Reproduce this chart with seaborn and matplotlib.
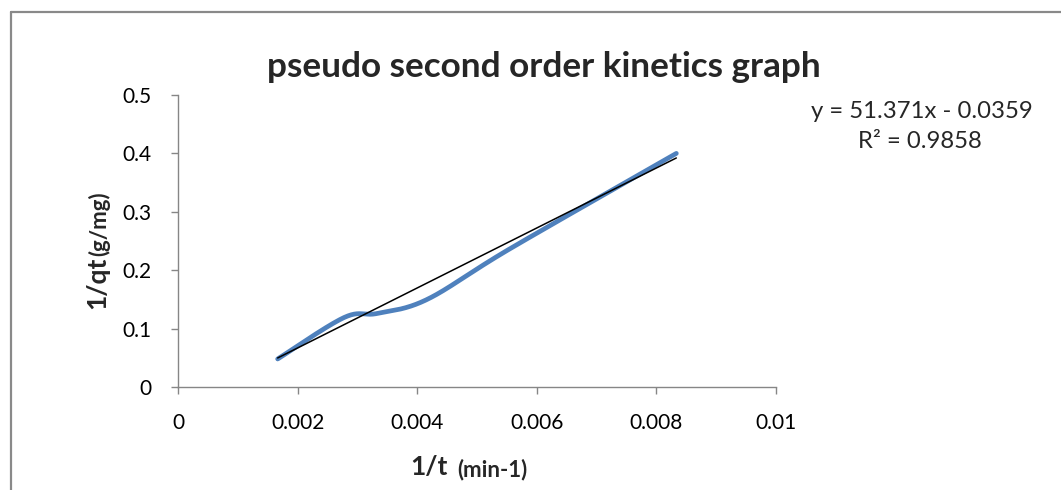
import numpy as np
import pandas as pd
import matplotlib
matplotlib.use("Agg")
import matplotlib.pyplot as plt
from matplotlib.lines import Line2D
import seaborn as sns

# Measured points: 1/t (min^-1) against 1/qt (g/mg)
inv_t = [1 / 600, 1 / 360, 1 / 300, 1 / 240, 1 / 180, 1 / 120]
inv_qt = [0.048, 0.119, 0.126, 0.150, 0.237, 0.400]

# Linear trendline fitted to the points
slope = 51.371
intercept = -0.0359
r_squared = 0.9858

x_ticks = [0, 0.002, 0.004, 0.006, 0.008, 0.01]
x_tick_labels = ["0", "0.002", "0.004", "0.006", "0.008", "0.01"]
y_ticks = [0, 0.1, 0.2, 0.3, 0.4, 0.5]
y_tick_labels = ["0", "0.1", "0.2", "0.3", "0.4", "0.5"]

W, H, DPI = 1061, 490, 100
AX_L, AX_R, AX_T, AX_B = 178, 776, 95, 387
FONT = "Lato"
GREY = "#868686"
BLUE = "#4F81BD"


def smooth_curve(xs, ys, sx, sy, n=50):
    """Cubic Bezier smoothing through every point (spreadsheet-style)."""
    P = np.column_stack([np.asarray(xs) * sx, np.asarray(ys) * sy])
    parts = []
    for i in range(len(P) - 1):
        p0 = P[i - 1] if i > 0 else P[i]
        p1, p2 = P[i], P[i + 1]
        p3 = P[i + 2] if i + 2 < len(P) else P[i + 1]
        c1 = p1 + (p2 - p0) / 6.0
        c2 = p2 - (p3 - p1) / 6.0
        t = np.linspace(0, 1, n)[:, None]
        seg = ((1 - t) ** 3) * p1 + 3 * ((1 - t) ** 2) * t * c1 \
            + 3 * (1 - t) * t ** 2 * c2 + t ** 3 * p2
        parts.append(seg if i == 0 else seg[1:])
    pts = np.vstack(parts)
    return pts[:, 0] / sx, pts[:, 1] / sy


sns.set_theme(style="white")
plt.rcParams["font.family"] = [FONT, "DejaVu Sans"]

fig = plt.figure(figsize=(W / DPI, H / DPI), dpi=DPI)
ax = fig.add_axes([AX_L / W, 1 - AX_B / H, (AX_R - AX_L) / W, (AX_B - AX_T) / H])

# smoothing done in pixel units so both axes weigh equally
sx = (AX_R - AX_L) / 0.01
sy = (AX_B - AX_T) / 0.5
cx, cy = smooth_curve(inv_t, inv_qt, sx, sy)
curve = pd.DataFrame({"inv_t": cx, "inv_qt": cy})
sns.lineplot(data=curve, x="inv_t", y="inv_qt", ax=ax, sort=False,
             estimator=None, color=BLUE, linewidth=3.4,
             solid_capstyle="round", zorder=2)

trend = pd.DataFrame({"inv_t": [inv_t[0], inv_t[-1]]})
trend["fit"] = slope * trend["inv_t"] + intercept
sns.lineplot(data=trend, x="inv_t", y="fit", ax=ax, color="black",
             linewidth=1.1, zorder=3)

ax.set_xlim(0, 0.01)
ax.set_ylim(0, 0.5)
ax.set_xticks(x_ticks)
ax.set_xticklabels(x_tick_labels)
ax.set_yticks(y_ticks)
ax.set_yticklabels(y_tick_labels)
ax.set_xlabel("")
ax.set_ylabel("")
for side in ["top", "right"]:
    ax.spines[side].set_visible(False)
for side in ["left", "bottom"]:
    ax.spines[side].set_color(GREY)
    ax.spines[side].set_linewidth(1.0)
ax.tick_params(axis="both", which="major", direction="out", length=5,
               width=1.0, color=GREY, labelsize=15, labelcolor="black",
               bottom=True, left=True)
ax.tick_params(axis="x", pad=14)
ax.tick_params(axis="y", pad=14)

# Title
fig.text(544 / W, 1 - 67 / H, "pseudo second order kinetics graph",
         ha="center", va="center", fontsize=25.3, fontweight="bold")

# Axis titles
fig.text(428.5 / W, 1 - 467 / H, "1/t", ha="center", va="center",
         fontsize=19, fontweight="bold")
fig.text(492 / W, 1 - 470 / H, "(min-1)", ha="center", va="center",
         fontsize=16, fontweight="bold")
fig.text(97 / W, 1 - 283 / H, "1/qt", ha="center", va="center",
         rotation=90, fontsize=19, fontweight="bold")
fig.text(99 / W, 1 - 224 / H, "(g/mg)", ha="center", va="center",
         rotation=90, fontsize=16, fontweight="bold")

# Trendline equation
fig.text(922 / W, 1 - 112 / H, f"y = {slope}x - {abs(intercept)}",
         ha="center", va="center", fontsize=17.2)
fig.text(920 / W, 1 - 142 / H, f"R² = {r_squared}",
         ha="center", va="center", fontsize=17.2)

# Chart-area border
fig.add_artist(Line2D([11 / W, 11 / W], [0, 1 - 12 / H],
                      transform=fig.transFigure, color="#898989", linewidth=1.6))
fig.add_artist(Line2D([11 / W, 1.0], [1 - 12 / H, 1 - 12 / H],
                      transform=fig.transFigure, color="#898989", linewidth=1.6))

fig.savefig("out.png", dpi=DPI)
